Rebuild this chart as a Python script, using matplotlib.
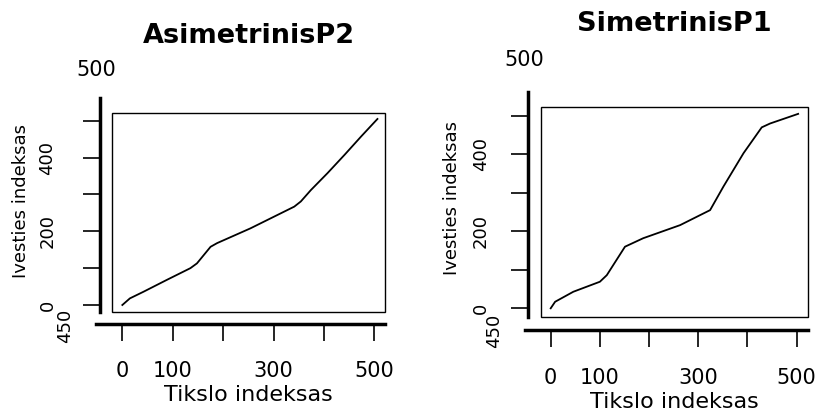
import numpy as np
import matplotlib
matplotlib.use("Agg")
import matplotlib.pyplot as plt
from matplotlib.patches import Rectangle

# values
asim_x = [0, 15, 42, 88, 135, 148, 175, 188, 254, 341, 354, 374, 407, 441, 474, 506]
asim_y = [0, 18, 36, 68, 100, 113, 158, 168, 208, 267, 281, 312, 358, 408, 458, 505]
sim_x = [0, 9, 46, 100, 114, 151, 188, 263, 324, 351, 392, 429, 446, 503]
sim_y = [0, 17, 43, 69, 86, 160, 182, 216, 255, 316, 403, 470, 480, 505]

ticks = [0, 100, 200, 300, 400, 500]
x_ticklabels = ["0", "100", "", "300", "", "500"]
y_ticklabels = ["0", "", "200", "", "400", ""]
titles = ["AsimetrinisP2", "SimetrinisP1"]

W, H = 818, 417
fig = plt.figure(figsize=(W / 100, H / 100), dpi=100)


def px(x, y):
    return x / W, 1 - y / H


def panel(box, xs, ys, title, xlim, ylim, out_y, out_x, ypad, xpad,
          title_y, ylab_pos, xlab_y, top500, lab450):
    l, t, r, b = box
    ax = fig.add_axes([l / W, 1 - b / H, (r - l) / W, (b - t) / H])
    ax.plot(xs, ys, color="black", lw=1.3)
    ax.set_xlim(xlim)
    ax.set_ylim(ylim)
    ax.add_patch(Rectangle((0, 0), 1, 1, transform=ax.transAxes, fill=False,
                           lw=1.0, ec="black", clip_on=False))
    for s in ["top", "right"]:
        ax.spines[s].set_visible(False)
    ax.spines["left"].set_position(("outward", out_y))
    ax.spines["bottom"].set_position(("outward", out_x))
    ax.spines["left"].set_linewidth(2.5)
    ax.spines["bottom"].set_linewidth(2.5)
    ax.spines["left"].set_bounds(ylim[0], 562)
    ax.spines["bottom"].set_bounds(-53, xlim[1])

    ax.set_xticks(ticks)
    ax.set_xticklabels(x_ticklabels, fontsize=15)
    ax.set_yticks(ticks)
    ax.set_yticklabels(y_ticklabels, fontsize=13, rotation=90, va="center")
    ax.tick_params(axis="both", length=12, width=1.2, direction="out")
    ax.tick_params(axis="y", pad=ypad)
    ax.tick_params(axis="x", pad=xpad)

    ax.set_xlabel("Tikslo indeksas", fontsize=16)
    ax.xaxis.set_label_coords(0.5, (b - xlab_y) / (b - t))
    ax.set_ylabel("Ivesties indeksas", fontsize=13)
    ax.yaxis.set_label_coords((ylab_pos[0] - l) / (r - l), (b - ylab_pos[1]) / (b - t))

    fig.text(*px((l + r) / 2, title_y), title, fontsize=19.5, fontweight="bold",
             ha="center", va="center")
    fig.text(*px(*top500), "500", fontsize=15, ha="center", va="center")
    fig.text(*px(*lab450), "450", fontsize=13, rotation=90, ha="center", va="center")
    return ax


panel((112, 112.7, 385, 312), asim_x, asim_y, titles[0], (-20.5, 521), (-19, 522),
      8.6, 8.6, 19.4, 15, 36, (30, 201), 385, (96, 69.5), (65, 326))
panel((541, 106.7, 808, 316.7), sim_x, sim_y, titles[1], (-19.7, 523), (-21.8, 523.6),
      9.4, 9.6, 15.6, 15.5, 24, (461, 198), 392, (524, 59.5), (494, 331))

fig.savefig("out.png", dpi=100)
